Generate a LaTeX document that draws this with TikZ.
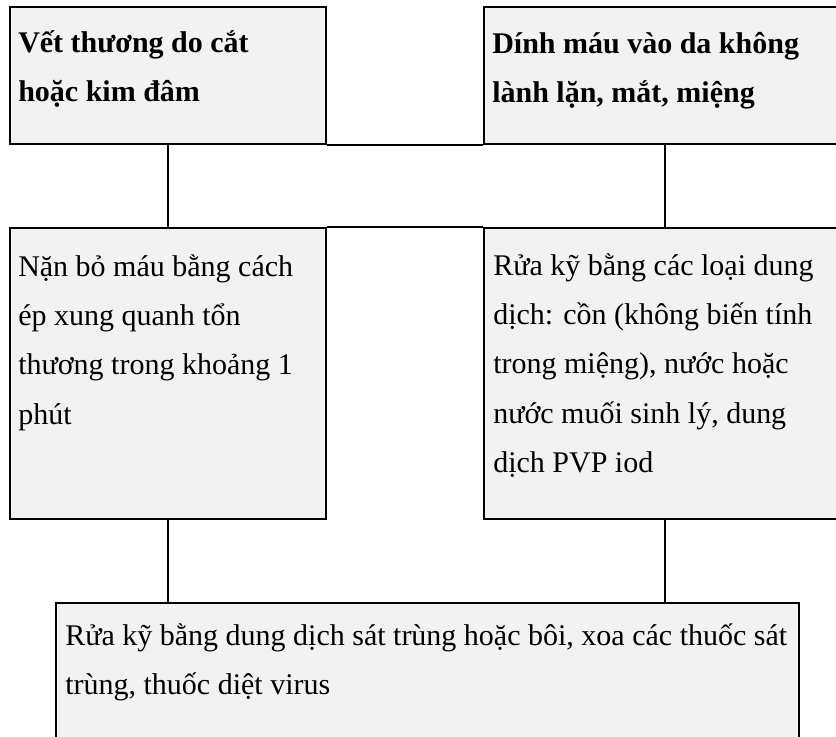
\documentclass[tikz,border=0pt]{standalone}
\usepackage{fontspec}
\setmainfont{Liberation Serif}
\usetikzlibrary{calc}
\definecolor{boxfill}{HTML}{F2F2F2}
\begin{document}
\begin{tikzpicture}[x=0.75pt,y=-0.75pt,
  box/.style={draw=black, line width=1.5pt, fill=boxfill, rectangle,
              inner sep=0pt, anchor=north west},
  link/.style={draw=black, line width=1.3pt},
  txt/.style={inner sep=0pt, anchor=base west,
              font=\fontsize{22.5pt}{37pt}\selectfont},
]
\useasboundingbox (0,0) rectangle (836,736);
\clip (0,0) rectangle (836,736);

% boxes
\node[box, minimum width=237pt,   minimum height=102.75pt] (tl) at (9,6) {};
\node[box, minimum width=271.5pt, minimum height=102.75pt] (tr) at (483,6) {};
\node[box, minimum width=237pt,   minimum height=218.25pt] (ml) at (9,227) {};
\node[box, minimum width=271.5pt, minimum height=218.25pt] (mr) at (483,227) {};
\node[box, minimum width=557.25pt, minimum height=118.5pt] (bt) at (55,602) {};

% texts
\node[txt] (tl-t) at (18,52) {\parbox[t]{300pt}{\bfseries Vết thương do cắt\\hoặc kim đâm}};
\node[txt] (tr-t) at (492,53) {\parbox[t]{300pt}{\bfseries Dính máu vào da không\\lành lặn, mắt, miệng}};
\node[txt] (ml-t) at (18,276) {\parbox[t]{300pt}{Nặn bỏ máu bằng cách\\ép xung quanh tổn\\thương trong khoảng 1\\phút}};
\node[txt] (mr-t) at (493,275) {\parbox[t]{300pt}{Rửa kỹ bằng các loại dung\\dịch: cồn (không biến tính\\trong miệng), nước hoặc\\nước muối sinh lý, dung\\dịch PVP iod}};
\node[txt] (bt-t) at (65,645) {\parbox[t]{600pt}{Rửa kỹ bằng dung dịch sát trùng hoặc bôi, xoa các thuốc sát\\trùng, thuốc diệt virus}};

% connectors
\draw[link] (tl.south east) -- (tr.south west);
\draw[link] (ml.north east) -- (mr.north west);
\draw[link] (tl.south) -- (ml.north);
\draw[link] (tr.south) -- (mr.north);
\draw[link] (ml.south) -- (ml.south |- bt.north);
\draw[link] (mr.south) -- (mr.south |- bt.north);
\end{tikzpicture}
\end{document}
